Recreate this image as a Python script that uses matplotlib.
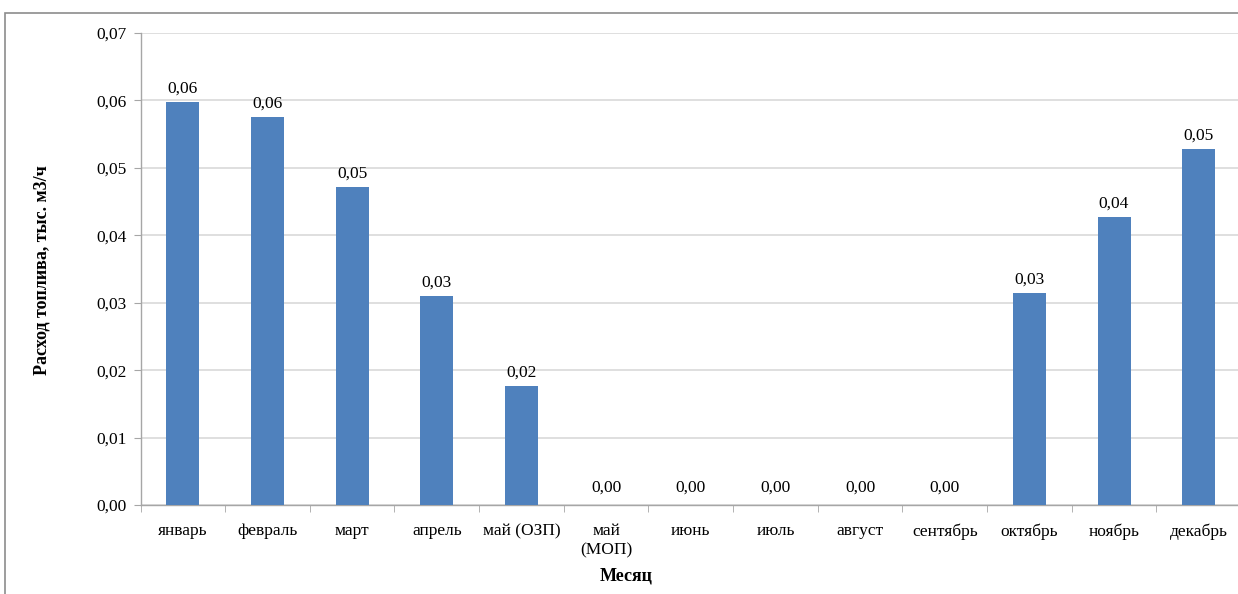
import matplotlib
matplotlib.use("Agg")
import matplotlib.pyplot as plt
from matplotlib.patches import Rectangle

months = ["январь", "февраль", "март", "апрель", "май (ОЗП)", "май\n(МОП)",
          "июнь", "июль", "август", "сентябрь", "октябрь", "ноябрь", "декабрь"]
fuel_use = [0.0598, 0.0575, 0.0472, 0.0310, 0.0176, 0.0, 0.0, 0.0, 0.0, 0.0,
            0.0314, 0.0427, 0.0528]
y_ticks = [0.00, 0.01, 0.02, 0.03, 0.04, 0.05, 0.06, 0.07]

plt.rcParams["font.family"] = ["Liberation Serif", "DejaVu Serif"]

W, H = 1238, 594
fig = plt.figure(figsize=(W / 100, H / 100), dpi=100)
fig.patch.set_facecolor("white")

# outer chart frame (runs off the right and bottom edges)
fig.add_artist(Rectangle((5 / W, -0.05), 1.1, 1 - 13 / H + 0.05,
                         transform=fig.transFigure, fill=False,
                         edgecolor="#8c8c8c", linewidth=1.2))

left, right, top, bottom = 140.5, 1241, 33, 505
ax = fig.add_axes([left / W, 1 - bottom / H, (right - left) / W, (bottom - top) / H])

x = list(range(len(months)))
bars = ax.bar(x, fuel_use, width=0.39, color="#4f81bd", zorder=3)

ax.set_xlim(-0.5, len(months) - 0.5)
ax.set_ylim(0, 0.07)
ax.set_yticks(y_ticks)
ax.set_yticklabels([f"{v:.2f}".replace(".", ",") for v in y_ticks])
ax.yaxis.grid(True, color="#d9d9d9", linewidth=1.2, zorder=0)
ax.set_axisbelow(True)

ax.set_xticks(x)
ax.set_xticklabels(months, linespacing=1.3)
ax.set_xticks([i - 0.5 for i in range(len(months) + 1)], minor=True)
ax.tick_params(axis="x", which="major", length=0, pad=13, labelsize=12.5)
ax.tick_params(axis="x", which="minor", length=5, color="#a6a6a6")
ax.tick_params(axis="y", length=5, color="#a6a6a6", labelsize=12.5, pad=5)

for s in ["top", "right"]:
    ax.spines[s].set_visible(False)
for s in ["left", "bottom"]:
    ax.spines[s].set_color("#a6a6a6")
    ax.spines[s].set_linewidth(1.0)

for xi, v in zip(x, fuel_use):
    ax.annotate(f"{v:.2f}".replace(".", ","), (xi, v), xytext=(0, 4 if v > 0 else 7),
                textcoords="offset points", ha="center", va="bottom", fontsize=12.5)

ax.set_ylabel("Расход топлива, тыс. м3/ч", fontsize=13, fontweight="bold")
ax.set_xlabel("Месяц", fontsize=13, fontweight="bold")
ax.xaxis.set_label_coords((626 - left) / (right - left), -(567 - bottom) / (bottom - top))
ax.yaxis.set_label_coords(-(left - 51) / (right - left), (bottom - 270) / (bottom - top))

fig.savefig("out.png", dpi=100)
